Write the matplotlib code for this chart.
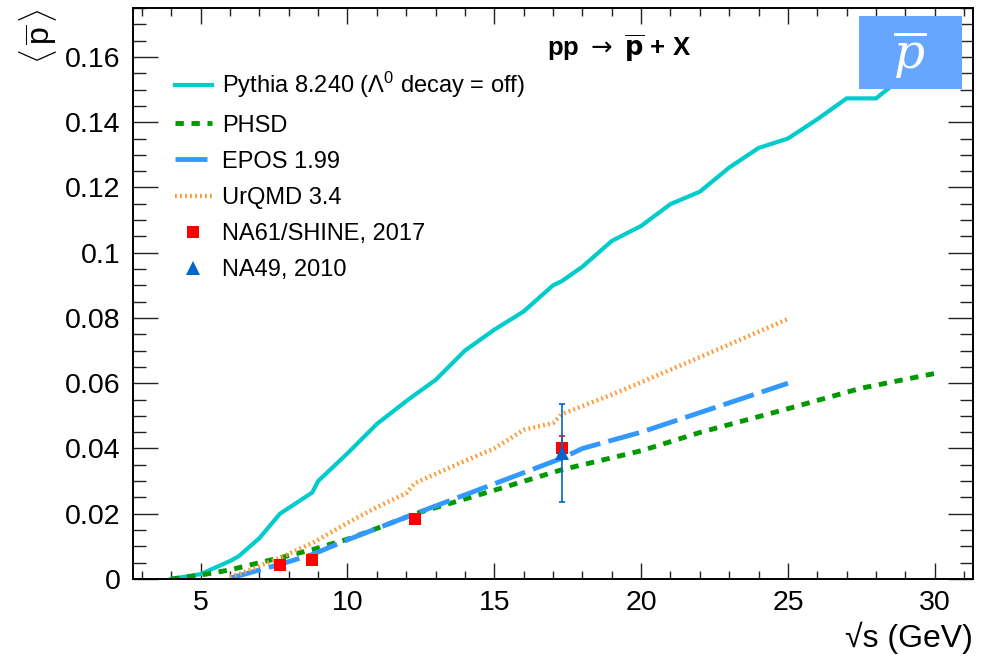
import matplotlib
matplotlib.use("Agg")
import matplotlib.pyplot as plt
from matplotlib.lines import Line2D
from matplotlib.patches import Rectangle
from matplotlib.ticker import MultipleLocator, FormatStrFormatter

plt.rcParams['font.family'] = ['Liberation Sans', 'DejaVu Sans']
plt.rcParams['mathtext.fontset'] = 'custom'
plt.rcParams['mathtext.rm'] = 'Liberation Sans'
plt.rcParams['mathtext.it'] = 'Liberation Sans:italic'
plt.rcParams['mathtext.bf'] = 'Liberation Sans:bold'
plt.rcParams['lines.scale_dashes'] = False

# model curves
pythia_x = [4, 5, 6, 6.3, 7, 7.7, 8.8, 9, 10, 11, 12, 12.3, 13, 14, 15, 16, 17, 17.3,
            18, 19, 20, 21, 22, 23, 24, 25, 26, 27, 28, 29, 30]
pythia_y = [0.0, 0.0015, 0.0055, 0.007, 0.0125, 0.0200, 0.0265, 0.0300, 0.0385, 0.0475,
            0.0545, 0.0565, 0.0610, 0.0700, 0.0764, 0.0820, 0.0900, 0.0913, 0.0957, 0.1036,
            0.1082, 0.1149, 0.1187, 0.1261, 0.1321, 0.1350, 0.1409, 0.1473, 0.1473, 0.1545,
            0.1600]

phsd_x = [4, 5, 6, 7, 7.7, 8.8, 10, 11, 12.3, 15, 17.3, 20, 22, 25, 27.5, 30]
phsd_y = [0.0, 0.0012, 0.0028, 0.005, 0.0065, 0.009, 0.0122, 0.0155, 0.0200, 0.0272,
          0.0335, 0.0393, 0.0449, 0.0522, 0.0585, 0.0630]

epos_x = [6.0, 6.3, 7.7, 8.8, 10, 12.3, 17.3, 18, 20, 25]
epos_y = [0.0003, 0.001, 0.0045, 0.0075, 0.012, 0.0200, 0.0370, 0.0400, 0.0450, 0.0600]

urqmd_x = [6.0, 6.3, 7.7, 8.8, 10, 11, 12, 12.3, 13, 14, 15, 16, 17, 17.3, 18, 19, 20, 22, 25]
urqmd_y = [0.0007, 0.0015, 0.0065, 0.011, 0.0172, 0.022, 0.0263, 0.0294, 0.0322, 0.0362,
           0.0400, 0.0457, 0.0478, 0.0505, 0.0530, 0.0565, 0.0603, 0.0680, 0.0797]

# measurements
na61_x = [7.7, 8.8, 12.3, 17.3]
na61_y = [0.0043, 0.0058, 0.0183, 0.0403]
na61_err = [0.0004, 0.0005, 0.0008, 0.0036]

na49_x = [17.3]
na49_y = [0.0386]
na49_err = [0.0150]

c_pythia = '#00cccc'
c_phsd = '#009900'
c_epos = '#3399ff'
c_urqmd = '#ff9933'
c_na61 = '#ff0000'
c_na49 = '#0066cc'

fig = plt.figure(figsize=(9.87, 6.6), dpi=100)
ax = fig.add_axes([0.1348, 0.1227, 0.851, 0.8652])

ax.plot(pythia_x, pythia_y, color=c_pythia, lw=3.0, solid_joinstyle='miter')
ax.plot(phsd_x, phsd_y, color=c_phsd, lw=3.5, dashes=(6, 5.5))
ax.plot(epos_x, epos_y, color=c_epos, lw=3.5, dashes=(23, 6))
ax.plot(urqmd_x, urqmd_y, color=c_urqmd, lw=3.2, dashes=(1.3, 2.3))

ax.errorbar(na61_x, na61_y, yerr=na61_err, fmt='none', ecolor=c_na61,
            elinewidth=1.2, capsize=2.4, capthick=1.2, zorder=4)
ax.plot(na61_x, na61_y, 's', color=c_na61, ms=8.5, mew=0, zorder=4)
ax.errorbar(na49_x, na49_y, yerr=na49_err, fmt='none', ecolor=c_na49,
            elinewidth=1.2, capsize=2.4, capthick=1.2, zorder=5)
ax.plot(na49_x, na49_y, '^', color=c_na49, ms=10, mew=0, zorder=5)

ax.set_xlim(2.7, 31.3)
ax.set_ylim(0, 0.175)
ax.xaxis.set_major_locator(MultipleLocator(5))
ax.xaxis.set_minor_locator(MultipleLocator(1))
ax.yaxis.set_major_locator(MultipleLocator(0.02))
ax.yaxis.set_minor_locator(MultipleLocator(0.005))
ax.yaxis.set_major_formatter(FormatStrFormatter('%g'))

ax.tick_params(which='both', direction='in', top=True, right=True, width=1.0,
               labelsize=20.5, color='#222222')
ax.tick_params(axis='x', which='major', length=11.5, pad=8)
ax.tick_params(axis='x', which='minor', length=6)
ax.tick_params(axis='y', which='major', length=18, pad=9)
ax.tick_params(axis='y', which='minor', length=9.5)
for s in ax.spines.values():
    s.set_linewidth(1.4)

ax.set_xlabel('\u221as (GeV)', fontsize=23, loc='right', labelpad=4)
ax.set_ylabel(r'$\langle\,\overline{\mathrm{p}}\,\rangle$', fontsize=23, loc='top', labelpad=4)

ax.text(0.5786, 0.93, r'pp $\rightarrow$ $\mathbf{\overline{p}}$ + X', transform=ax.transAxes,
        ha='center', va='center', fontsize=18.5, fontweight='bold',
        math_fontfamily='dejavusans')

ax.add_patch(Rectangle((0.864, 0.8576), 0.1226, 0.1284, transform=ax.transAxes,
                       facecolor='#66a6ff', edgecolor='none', zorder=10))
ax.text(0.925, 0.918, r'$\overline{p}$', transform=ax.transAxes, ha='center', va='center',
        fontsize=35, color='white', math_fontfamily='dejavuserif', zorder=11)

handles = [
    Line2D([], [], color=c_pythia, lw=3.0),
    Line2D([], [], color=c_phsd, lw=3.5, dashes=(6, 5.5)),
    Line2D([], [], color=c_epos, lw=3.5, dashes=(23, 6)),
    Line2D([], [], color=c_urqmd, lw=3.2, dashes=(1.3, 2.3)),
    Line2D([], [], color=c_na61, marker='s', ls='none', ms=8.5, mew=0),
    Line2D([], [], color=c_na49, marker='^', ls='none', ms=10, mew=0),
]
labels = [r'Pythia 8.240 ($\Lambda^{0}$ decay = off)', 'PHSD', 'EPOS 1.99', 'UrQMD 3.4',
          'NA61/SHINE, 2017', 'NA49, 2010']
ax.legend(handles, labels, loc='upper left', bbox_to_anchor=(0.05, 0.891), frameon=False,
          fontsize=17, handlelength=1.55, handletextpad=0.45, labelspacing=0.6,
          borderpad=0, borderaxespad=0)

fig.savefig('out.png', dpi=100)
